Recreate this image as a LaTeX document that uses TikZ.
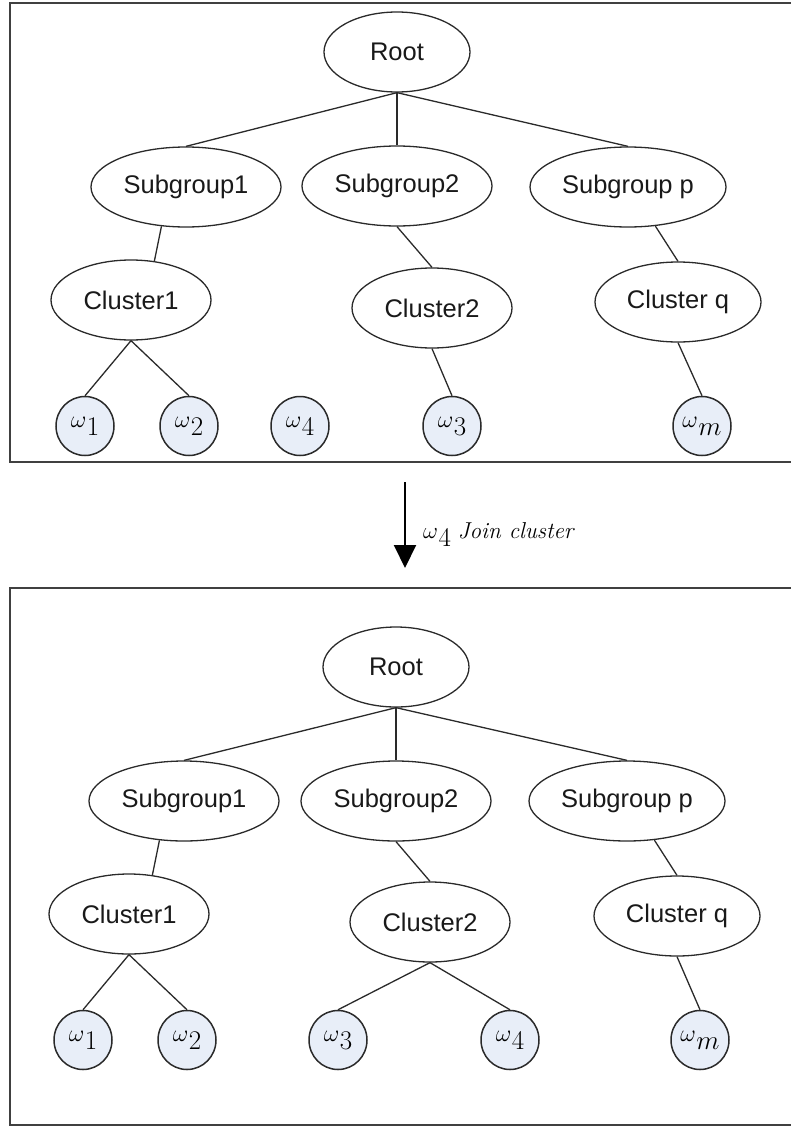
\RequirePackage{fix-cm}
\documentclass[tikz,border=0pt]{standalone}
\usepackage{fontspec}
\newfontfamily\labelsans{Liberation Sans}
\usetikzlibrary{shapes.geometric,arrows.meta}
\definecolor{leaffill}{HTML}{E8EEF8}
\definecolor{inkgray}{HTML}{2A2A2A}
% omega with a large, lowered index
\newcommand\omidx[1]{$\omega$\kern0.5pt\raisebox{-8pt}{\fontsize{27}{27}\selectfont$#1$}}
\tikzset{
  treenode/.style={ellipse, draw=inkgray, line width=1.3pt, inner sep=0pt,
    font=\labelsans\fontsize{25.5}{26}\selectfont, text=black!90},
  rootnode/.style={treenode, minimum width=146pt, minimum height=80pt},
  groupnode/.style={treenode, minimum width=190pt, minimum height=80pt},
  clusternode/.style={treenode, minimum width=160pt, minimum height=80pt},
  leafnode/.style={ellipse, draw=inkgray, line width=1.5pt, fill=leaffill,
    inner sep=0pt, minimum width=58pt, minimum height=59pt,
    font=\fontsize{24}{24}\selectfont},
  link/.style={draw=inkgray, line width=1.3pt},
  frame/.style={draw=black!75, line width=2pt},
}
\begin{document}
\begin{tikzpicture}[x=1pt,y=-1pt]
\useasboundingbox (0,0) rectangle (791,1127);

% ---------- upper tree ----------
\draw[frame] (791,3) -- (10,3) -- (10,462) -- (791,462);
\node[rootnode] (aroot) at (397,52) {Root};
\node[groupnode] (asg1) at (186,187) {Subgroup1};
\node[groupnode] (asg2) at (397,186) {Subgroup2};
\node[groupnode, minimum width=196pt] (asgp) at (628,187) {Subgroup p};
\node[clusternode] (ac1) at (131,300) {Cluster1};
\node[clusternode] (ac2) at (432,308) {Cluster2};
\node[clusternode, minimum width=166pt] (acq) at (678,302) {Cluster q};
\node[leafnode] (aw1) at (85,426) {\omidx{1}};
\node[leafnode] (aw2) at (189,426) {\omidx{2}};
\node[leafnode] (aw4) at (300,426) {\omidx{4}};
\node[leafnode] (aw3) at (452,426) {\omidx{3}};
\node[leafnode] (awm) at (702,426) {\omidx{m}};

\draw[link] (aroot.south) -- (asg1.north);
\draw[link] (aroot.south) -- (asg2.north);
\draw[link] (aroot.south) -- (asgp.north);
\draw[link] (asg1.238) -- (ac1.59);
\draw[link] (asg2.south) -- (ac2.north);
\draw[link] (asgp.305) -- (acq.north);
\draw[link] (ac1.south) -- (aw1.north);
\draw[link] (ac1.south) -- (aw2.north);
\draw[link] (ac2.south) -- (aw3.north);
\draw[link] (acq.south) -- (awm.north);

% ---------- transition arrow ----------
\coordinate (arrtop) at (405,482);
\coordinate (arrtip) at (405,568);
\draw[line width=2pt, -{Triangle[width=22pt,length=23pt]}] (arrtop) -- (arrtip);
\node[anchor=base west, inner sep=0pt, font=\fontsize{23}{23}\selectfont]
  (joinlbl) at (423,538) {\omidx{4}\ \textit{Join cluster}};

% ---------- lower tree ----------
\draw[frame] (791,588) -- (10,588) -- (10,1125) -- (791,1125);
\node[rootnode] (broot) at (396,667) {Root};
\node[groupnode] (bsg1) at (184,801) {Subgroup1};
\node[groupnode] (bsg2) at (396,801) {Subgroup2};
\node[groupnode, minimum width=196pt] (bsgp) at (627,801) {Subgroup p};
\node[clusternode] (bc1) at (129,914) {Cluster1};
\node[clusternode] (bc2) at (430,922) {Cluster2};
\node[clusternode, minimum width=166pt] (bcq) at (677,916) {Cluster q};
\node[leafnode] (bw1) at (83,1040) {\omidx{1}};
\node[leafnode] (bw2) at (187,1040) {\omidx{2}};
\node[leafnode] (bw3) at (338,1040) {\omidx{3}};
\node[leafnode] (bw4) at (510,1040) {\omidx{4}};
\node[leafnode] (bwm) at (700,1040) {\omidx{m}};

\draw[link] (broot.south) -- (bsg1.north);
\draw[link] (broot.south) -- (bsg2.north);
\draw[link] (broot.south) -- (bsgp.north);
\draw[link] (bsg1.238) -- (bc1.59);
\draw[link] (bsg2.south) -- (bc2.north);
\draw[link] (bsgp.305) -- (bcq.north);
\draw[link] (bc1.south) -- (bw1.north);
\draw[link] (bc1.south) -- (bw2.north);
\draw[link] (bc2.south) -- (bw3.north);
\draw[link] (bc2.south) -- (bw4.north);
\draw[link] (bcq.south) -- (bwm.north);
\end{tikzpicture}
\end{document}
